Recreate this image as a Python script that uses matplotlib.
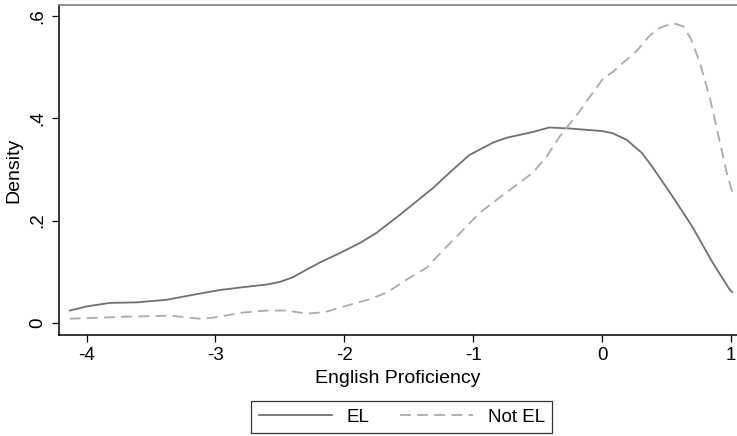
import matplotlib
matplotlib.use("Agg")
import matplotlib.pyplot as plt

# kernel density curves
el_x = [-4.13, -4.0, -3.82, -3.61, -3.38, -3.17, -2.97, -2.81, -2.60, -2.50,
        -2.40, -2.30, -2.19, -2.03, -1.88, -1.75, -1.57, -1.31, -1.16, -1.03,
        -0.85, -0.74, -0.54, -0.41, -0.25, -0.10, 0.0, 0.08, 0.19, 0.31, 0.39,
        0.55, 0.70, 0.86, 0.99, 1.01]
el_y = [0.024, 0.032, 0.039, 0.040, 0.045, 0.055, 0.064, 0.069, 0.075, 0.080,
        0.089, 0.103, 0.118, 0.137, 0.156, 0.176, 0.211, 0.264, 0.299, 0.328,
        0.352, 0.362, 0.373, 0.382, 0.380, 0.377, 0.375, 0.371, 0.358, 0.332,
        0.305, 0.246, 0.188, 0.117, 0.065, 0.060]

notel_x = [-4.13, -3.69, -3.35, -3.12, -3.02, -2.79, -2.60, -2.45, -2.29,
           -2.15, -2.03, -1.82, -1.67, -1.52, -1.36, -1.23, -1.1, -0.95, -0.79,
           -0.64, -0.54, -0.43, -0.33, -0.2, -0.1, 0.0, 0.09, 0.16, 0.27, 0.37,
           0.45, 0.55, 0.63, 0.69, 0.76, 0.84, 0.91, 0.97, 1.01]
notel_y = [0.008, 0.012, 0.014, 0.008, 0.010, 0.020, 0.024, 0.024, 0.018,
           0.021, 0.030, 0.045, 0.059, 0.084, 0.108, 0.143, 0.176, 0.215, 0.246,
           0.274, 0.293, 0.325, 0.364, 0.405, 0.440, 0.475, 0.492, 0.508, 0.532,
           0.562, 0.577, 0.586, 0.580, 0.555, 0.508, 0.436, 0.358, 0.290, 0.256]

xticks = [-4, -3, -2, -1, 0, 1]
yticks = [0, 0.2, 0.4, 0.6]
ytick_labels = ["0", ".2", ".4", ".6"]

plt.rcParams["font.family"] = ["Liberation Sans", "DejaVu Sans"]

fig = plt.figure(figsize=(7.37, 4.36), dpi=100)
ax = fig.add_axes([0.080, 0.232, 0.92, 0.7565])

ax.plot(el_x, el_y, color="#707070", lw=1.3, label="EL")
ax.plot(notel_x, notel_y, color="#ababab", lw=1.3, dashes=(6, 3.5), label="Not EL")

ax.set_xlim(-4.214, 1.047)
ax.set_ylim(-0.0235, 0.6215)
ax.set_xticks(xticks)
ax.set_xticklabels([str(t) for t in xticks])
ax.set_yticks(yticks)
ax.set_yticklabels(ytick_labels, rotation=90, va="center")

ax.tick_params(axis="both", direction="out", length=5, width=0.9,
               labelsize=13.5, colors="black")
ax.tick_params(axis="x", pad=4)
ax.tick_params(axis="y", pad=4)

for side in ["left", "bottom"]:
    ax.spines[side].set_color("black")
    ax.spines[side].set_linewidth(1.1)
ax.spines["top"].set_color("#7f7f7f")
ax.spines["top"].set_linewidth(1.2)
ax.spines["right"].set_visible(False)

ax.set_xlabel("English Proficiency", fontsize=14, labelpad=4)
ax.set_ylabel("Density", fontsize=14, labelpad=5)

leg = fig.legend(loc="center", bbox_to_anchor=(0.545, 0.043), ncol=2,
                 fontsize=13.5, frameon=True, fancybox=False,
                 handlelength=3.9, columnspacing=1.6, handletextpad=0.8,
                 borderpad=0.4, borderaxespad=0)
leg.get_frame().set_edgecolor("black")
leg.get_frame().set_linewidth(0.9)

fig.savefig("out.png", dpi=100)
